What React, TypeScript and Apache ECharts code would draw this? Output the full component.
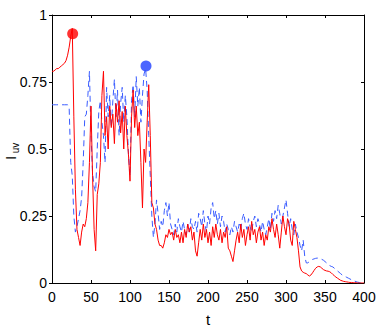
import React, { useEffect, useRef } from "react";
import * as echarts from "echarts";

// sampling step of both traces (t units)
const STEP = 2;

// red solid trace, t = 0, 2, 4, ... 400
const redValues = [
  0.79, 0.79, 0.795, 0.8, 0.8, 0.805, 0.81, 0.815, 0.82, 0.83,
  0.85, 0.88, 0.92, 0.95, 0.62, 0.35, 0.2, 0.17, 0.14, 0.19,
  0.22, 0.21, 0.24, 0.3, 0.45, 0.66, 0.4, 0.2, 0.12, 0.33,
  0.37, 0.45, 0.7, 0.79, 0.55, 0.62, 0.5, 0.66, 0.58, 0.63,
  0.52, 0.67, 0.6, 0.68, 0.56, 0.64, 0.5, 0.66, 0.55, 0.48,
  0.38, 0.62, 0.72, 0.58, 0.66, 0.55, 0.6, 0.45, 0.28, 0.5,
  0.45, 0.6, 0.74, 0.55, 0.3, 0.28, 0.22, 0.2, 0.16, 0.14,
  0.14, 0.13, 0.15, 0.18, 0.17, 0.2, 0.18, 0.19, 0.16, 0.2,
  0.17, 0.18, 0.15, 0.19, 0.15, 0.2, 0.17, 0.22, 0.19, 0.21,
  0.16, 0.19, 0.12, 0.1, 0.15, 0.2, 0.16, 0.22, 0.17, 0.2,
  0.15, 0.19, 0.14, 0.21, 0.17, 0.22, 0.18, 0.16, 0.2, 0.15,
  0.19, 0.17, 0.21, 0.13, 0.12, 0.1, 0.08, 0.12, 0.16, 0.19,
  0.15, 0.22, 0.17, 0.2, 0.14, 0.18, 0.21, 0.16, 0.23, 0.18,
  0.2, 0.15, 0.19, 0.21, 0.16, 0.19, 0.14, 0.18, 0.16, 0.21,
  0.19, 0.24, 0.2, 0.17, 0.22, 0.18, 0.13, 0.19, 0.25, 0.21,
  0.18, 0.24, 0.22, 0.16, 0.14, 0.23, 0.2, 0.17, 0.12, 0.06,
  0.045, 0.04, 0.037, 0.035, 0.03, 0.026, 0.03, 0.038, 0.047, 0.055,
  0.06, 0.062, 0.06, 0.055, 0.05, 0.047, 0.045, 0.044, 0.042, 0.038,
  0.032, 0.027, 0.022, 0.018, 0.014, 0.01, 0.008, 0.006, 0.005, 0.004,
  0.003, 0.002, 0.002, 0.001, 0.001, 0.001, 0, 0, 0, 0,
  0,
];

// blue dashed trace, t = 0, 2, 4, ... 400
const blueValues = [
  0.665, 0.665, 0.665, 0.665, 0.665, 0.665, 0.665, 0.665, 0.665, 0.665,
  0.665, 0.655, 0.45, 0.4, 0.25, 0.19, 0.21, 0.24, 0.27, 0.32,
  0.45, 0.62, 0.63, 0.7, 0.79, 0.55, 0.41, 0.36, 0.34, 0.5,
  0.64, 0.68, 0.6, 0.55, 0.45, 0.73, 0.62, 0.7, 0.58, 0.68,
  0.76, 0.62, 0.72, 0.55, 0.67, 0.73, 0.6, 0.7, 0.62, 0.48,
  0.4, 0.68, 0.74, 0.62, 0.77, 0.66, 0.73, 0.6, 0.7, 0.78,
  0.8, 0.72, 0.55, 0.4, 0.25, 0.17, 0.22, 0.31, 0.26, 0.2,
  0.23, 0.21, 0.27, 0.3, 0.25, 0.3, 0.22, 0.2, 0.18, 0.22,
  0.19, 0.24, 0.21, 0.19, 0.23, 0.2, 0.18, 0.22, 0.19, 0.24,
  0.21, 0.2, 0.23, 0.19, 0.26, 0.24, 0.21, 0.27, 0.22, 0.19,
  0.25, 0.22, 0.28, 0.3, 0.24, 0.27, 0.22, 0.26, 0.21, 0.25,
  0.23, 0.19, 0.22, 0.2, 0.18, 0.21, 0.19, 0.23, 0.21, 0.19,
  0.22, 0.2, 0.24, 0.26, 0.22, 0.2, 0.24, 0.21, 0.19, 0.23,
  0.25, 0.21, 0.24, 0.22, 0.19, 0.23, 0.2, 0.18, 0.21, 0.24,
  0.2, 0.26, 0.23, 0.27, 0.24, 0.29, 0.26, 0.22, 0.25, 0.28,
  0.31, 0.26, 0.21, 0.24, 0.2, 0.18, 0.22, 0.19, 0.17, 0.14,
  0.12, 0.16, 0.1, 0.075, 0.075, 0.08, 0.085, 0.088, 0.09, 0.092,
  0.093, 0.092, 0.09, 0.088, 0.085, 0.08, 0.075, 0.07, 0.065, 0.062,
  0.06, 0.055, 0.05, 0.045, 0.04, 0.035, 0.03, 0.027, 0.024, 0.021,
  0.018, 0.015, 0.012, 0.009, 0.007, 0.005, 0.003, 0.002, 0.001, 0,
  0,
];

// highlighted points [t, value]
const redMarker = [[26.5, 0.93]];
const blueMarker = [[120.5, 0.81]];

const xTicks = { min: 0, max: 400, interval: 50 };
const yTicks = { min: 0, max: 1, interval: 0.25 };

const FONT = "'Liberation Sans', Arial, Helvetica, sans-serif";

export default function App() {
  const ref = useRef<HTMLDivElement>(null);

  useEffect(() => {
    if (!ref.current) return;
    const chart = echarts.init(ref.current, null, { renderer: "svg" });
    const redData = redValues.map((v, i) => [i * STEP, v]);
    const blueData = blueValues.map((v, i) => [i * STEP, v]);
    const axisLine = { show: true, onZero: false, lineStyle: { color: "#000", width: 1 } };
    const label = { color: "#000", fontFamily: FONT, fontSize: 14 };

    chart.setOption({
      animation: false,
      backgroundColor: "#fff",
      grid: { left: 52, right: 18, top: 15, bottom: 44, containLabel: false, outerBoundsMode: "none" },
      xAxis: [
        {
          type: "value",
          ...xTicks,
          position: "bottom",
          axisLine,
          axisTick: { show: true, inside: true, length: 3, lineStyle: { color: "#000" } },
          axisLabel: { ...label, margin: 7 },
          splitLine: { show: false },
          name: "t",
          nameLocation: "middle",
          nameGap: 29,
          nameTextStyle: { ...label, fontSize: 15 },
        },
        {
          type: "value",
          ...xTicks,
          position: "top",
          axisLine,
          axisTick: { show: true, inside: true, length: 3, lineStyle: { color: "#000" } },
          axisLabel: { show: false },
          splitLine: { show: false },
        },
      ],
      yAxis: [
        {
          type: "value",
          ...yTicks,
          position: "left",
          axisLine,
          axisTick: { show: true, inside: false, length: 3, lineStyle: { color: "#000" } },
          axisLabel: { ...label, margin: 5 },
          splitLine: { show: false },
        },
        {
          type: "value",
          ...yTicks,
          position: "right",
          axisLine,
          axisTick: { show: true, inside: true, length: 3, lineStyle: { color: "#000" } },
          axisLabel: { show: false },
          splitLine: { show: false },
        },
      ],
      graphic: [
        {
          type: "text",
          x: 10,
          y: 158,
          rotation: Math.PI / 2,
          style: { text: "I", font: `15px ${FONT}`, fill: "#000", align: "center", verticalAlign: "middle" },
        },
        {
          type: "text",
          x: 15,
          y: 148,
          rotation: Math.PI / 2,
          style: { text: "uv", font: `10px ${FONT}`, fill: "#000", align: "center", verticalAlign: "middle" },
        },
      ],
      series: [
        {
          type: "line",
          data: blueData,
          showSymbol: false,
          lineStyle: { color: "#3a5cff", width: 1, type: [6, 4] },
          z: 2,
        },
        {
          type: "line",
          data: redData,
          showSymbol: false,
          lineStyle: { color: "#ff0000", width: 1 },
          z: 3,
        },
        {
          type: "scatter",
          data: redMarker,
          symbolSize: 11,
          itemStyle: { color: "#ff0000" },
          z: 4,
        },
        {
          type: "scatter",
          data: blueMarker,
          symbolSize: 11,
          itemStyle: { color: "#1f3fff" },
          z: 4,
        },
      ],
    });
    return () => chart.dispose();
  }, []);

  return <div ref={ref} style={{ width: 382, height: 327, position: "absolute", left: 0, top: 0 }} />;
}
